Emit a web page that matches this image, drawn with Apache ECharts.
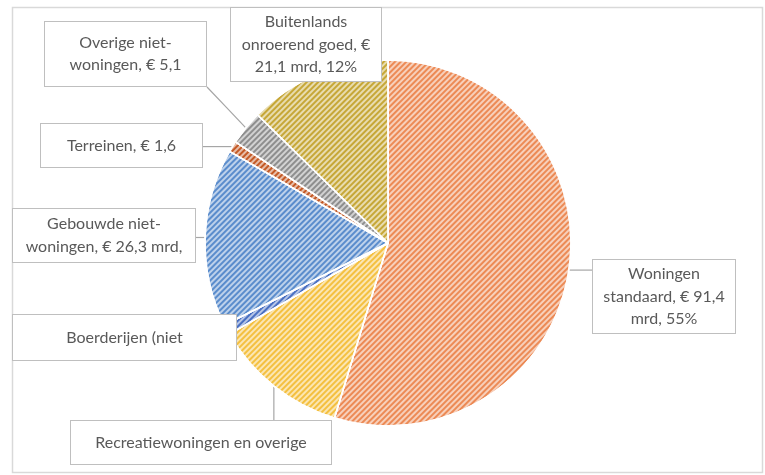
<!DOCTYPE html>
<html>
<head>
<meta charset="utf-8">
<script src="https://cdn.jsdelivr.net/npm/echarts@6/dist/echarts.min.js"></script>
<style>
html,body{margin:0;padding:0;background:#fff;}
#chart{width:765px;height:475px;}
</style>
</head>
<body>
<div id="chart"></div>
<script>
// ---- data ----
const categories = [
  'Woningen standaard',
  'Recreatiewoningen en overige',
  'Boerderijen (niet',
  'Gebouwde niet-woningen',
  'Terreinen',
  'Overige niet-woningen',
  'Buitenlands onroerend goed'
];
const values = [91.4, 20.0, 1.5, 26.3, 1.6, 5.1, 21.1];
const labelTexts = [
  'Woningen\nstandaard, € 91,4\nmrd, 55%',
  'Recreatiewoningen en overige',
  'Boerderijen (niet',
  'Gebouwde niet-\nwoningen, € 26,3 mrd,',
  'Terreinen, € 1,6',
  'Overige niet-\nwoningen, € 5,1',
  'Buitenlands\nonroerend goed, €\n21,1 mrd, 12%'
];

// ---- styles / layout (not data) ----
const colors = ['#ec8a55', '#f4c040', '#4a70c2', '#5a8ccc', '#c45a26', '#8e8e8e', '#c6a737'];
// label box: [left, top, right, bottom]
const boxes = [
  [592, 259, 736, 334],
  [70, 420, 332, 465],
  [12, 314, 237, 361],
  [12, 208, 196, 263],
  [40, 123, 203, 168],
  [44, 21, 207, 87],
  [230, 7, 382, 82]
];
const LH = 22.5;

const chart = echarts.init(document.getElementById('chart'));

const data = categories.map((name, i) => {
  const b = boxes[i];
  const w = b[2] - b[0], h = b[3] - b[1];
  const nLines = labelTexts[i].split('\n').length;
  const pv = Math.max(0, (h - 2 - nLines * LH) / 2);
  return {
    name: name,
    value: values[i],
    itemStyle: {
      color: colors[i],
      decal: {
        symbol: 'rect',
        symbolSize: 1,
        dashArrayX: [1, 0],
        dashArrayY: [1.6, 1.9],
        rotation: -Math.PI / 4,
        color: 'rgba(255,255,255,0.6)'
      }
    },
    label: {
      formatter: labelTexts[i],
      width: w - 2,
      padding: [pv, 0, pv, 0],
      overflow: 'truncate'
    }
  };
});

chart.setOption({
  animation: false,
  backgroundColor: '#fff',
  aria: { enabled: false, decal: { show: true } },
  graphic: [{
    type: 'rect',
    shape: { x: 12.5, y: 7.5, width: 750, height: 465 },
    style: { fill: 'none', stroke: '#d9d9d9', lineWidth: 1.5 },
    z: -10
  }],
  series: [{
    type: 'pie',
    center: [388, 243],
    radius: 183,
    startAngle: 90,
    clockwise: true,
    avoidLabelOverlap: false,
    itemStyle: { borderColor: '#ffffff', borderWidth: 1.5 },
    label: {
      show: true,
      position: 'outside',
      fontFamily: 'Lato',
      fontSize: 16,
      lineHeight: LH,
      color: '#595959',
      align: 'center',
      backgroundColor: '#ffffff',
      borderColor: '#bfbfbf',
      borderWidth: 1
    },
    labelLine: {
      show: true,
      length: 10,
      length2: 10,
      lineStyle: { color: '#a6a6a6', width: 1.2 }
    },
    labelLayout: function (params) {
      const b = boxes[params.dataIndex];
      const out = {
        x: (b[0] + b[2]) / 2,
        y: (b[1] + b[3]) / 2,
        align: 'center',
        verticalAlign: 'middle'
      };
      const pts = params.labelLinePoints;
      if (pts && pts.length) {
        const a = pts[0];
        const ex = Math.min(Math.max(a[0], b[0]), b[2]);
        const ey = Math.min(Math.max(a[1], b[1]), b[3]);
        const m = [(a[0] + ex) / 2, (a[1] + ey) / 2];
        out.labelLinePoints = [[a[0], a[1]], m, [ex, ey]];
      }
      return out;
    },
    data: data
  }]
});
</script>
</body>
</html>
